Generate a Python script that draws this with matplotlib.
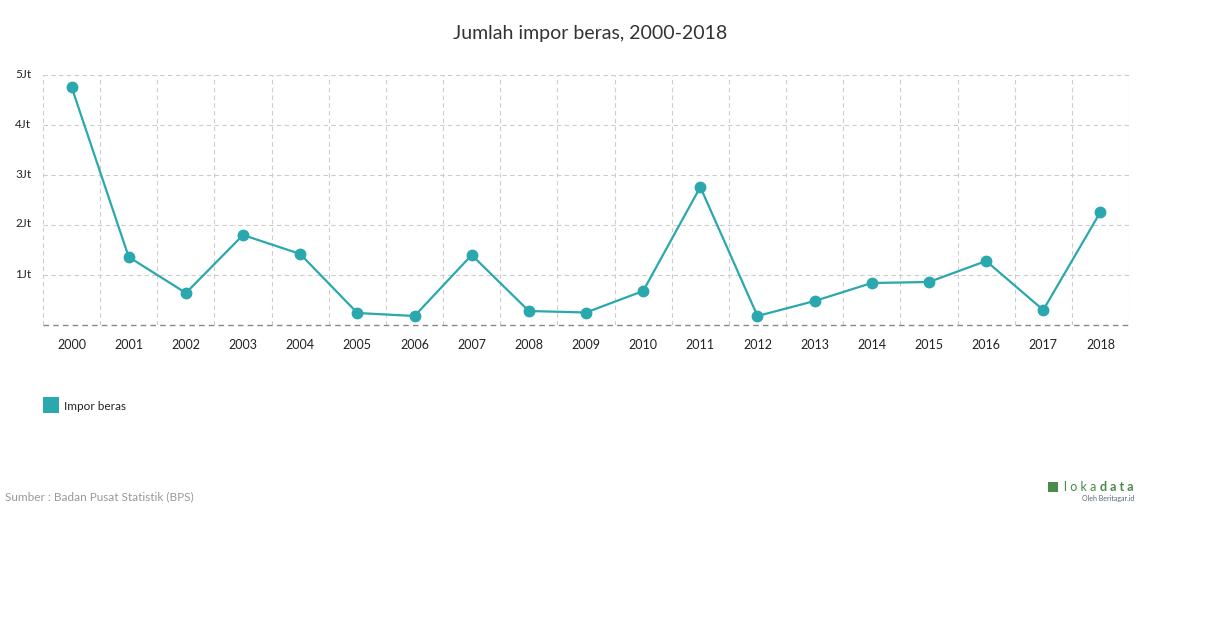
import matplotlib
matplotlib.use("Agg")
import matplotlib.pyplot as plt
from matplotlib.patches import Rectangle

plt.rcParams['font.family'] = ['Lato', 'DejaVu Sans']

# Data (juta ton)
years = ['2000', '2001', '2002', '2003', '2004', '2005', '2006', '2007', '2008', '2009',
         '2010', '2011', '2012', '2013', '2014', '2015', '2016', '2017', '2018']
impor = [4.76, 1.36, 0.64, 1.80, 1.42, 0.24, 0.18, 1.40, 0.28, 0.25,
         0.68, 2.76, 0.18, 0.48, 0.84, 0.86, 1.28, 0.30, 2.26]
yticks = [1, 2, 3, 4, 5]
ylabels = ['1Jt', '2Jt', '3Jt', '4Jt', '5Jt']

TEAL = '#2aa8ad'
W, H = 1210, 628

fig = plt.figure(figsize=(W / 100, H / 100), dpi=100)
ax = fig.add_axes([43 / W, 1 - 325 / H, (1129 - 43) / W, 250 / H])

x = list(range(len(years)))
ax.plot(x, impor, color=TEAL, linewidth=1.6, marker='o', markersize=7.5,
        markerfacecolor=TEAL, markeredgecolor=TEAL, zorder=3, clip_on=False)

ax.set_xlim(-0.5, len(years) - 0.5)
ax.set_ylim(0, 5)

# grid
for b in [i - 0.5 for i in range(len(years) + 1)]:
    ax.axvline(b, color='#cccccc', linestyle=(0, (4, 3)), linewidth=0.8, zorder=1)
for t in yticks:
    ax.axhline(t, color='#cccccc', linestyle=(0, (4, 3)), linewidth=0.8, zorder=1,
               clip_on=False)
ax.axhline(0, color='#888888', linestyle=(0, (4, 3)), linewidth=1.0, zorder=2, clip_on=False)

for s in ax.spines.values():
    s.set_visible(False)
ax.set_xticks(x)
ax.set_xticklabels(years, fontsize=9, color='#222222')
ax.tick_params(axis='x', length=0, pad=10)
ax.set_yticks([])

# y labels, left aligned at figure edge
for t, lab in zip(yticks, ylabels):
    ypix = 325 - t * 50 - 1
    fig.text(15 / W, 1 - ypix / H, lab, fontsize=8.5, color='#222222',
             ha='left', va='center')

# title
fig.text(590 / W, 1 - 33 / H, 'Jumlah impor beras, 2000-2018', ha='center', va='center',
         fontsize=14, color='#333333')

# legend
fig.patches.append(Rectangle((43 / W, 1 - 413 / H), 16 / W, 16 / H, transform=fig.transFigure,
                             facecolor=TEAL, edgecolor='none'))
fig.text(64 / W, 1 - 406 / H, 'Impor beras', ha='left', va='center', fontsize=8.5, color='#222222')

# source
fig.text(5 / W, 1 - 497 / H, 'Sumber : Badan Pusat Statistik (BPS)', ha='left', va='center',
         fontsize=8.5, color='#999999')

# logo
fig.patches.append(Rectangle((1048 / W, 1 - 492 / H), 10 / W, 10 / H, transform=fig.transFigure,
                             facecolor='#4a8a4a', edgecolor='none'))
fig.text(1064 / W, 1 - 487 / H, 'l o k a ', ha='left', va='center', fontsize=9, color='#4a8a4a')
fig.text(1134 / W, 1 - 487 / H, 'd a t a', ha='right', va='center', fontsize=9,
         color='#4a8a4a', fontweight='bold')
fig.text(1134 / W, 1 - 498 / H, 'Oleh Beritagar.id', ha='right', va='center', fontsize=5,
         color='#556677')

fig.savefig('out.png', dpi=100)
